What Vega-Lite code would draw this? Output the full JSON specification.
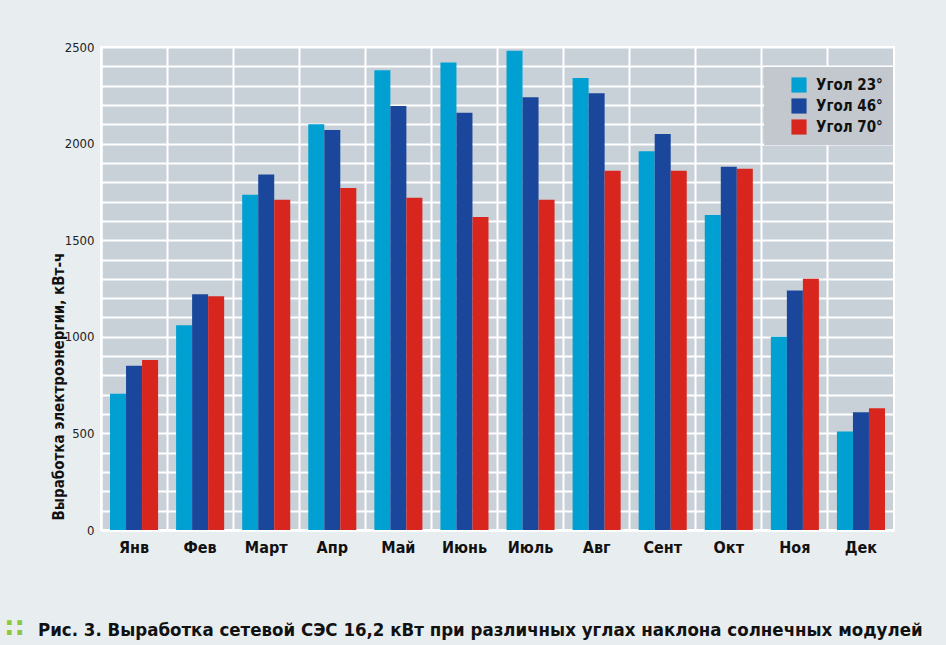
{
  "$schema": "https://vega.github.io/schema/vega-lite/v6.json",
  "width": 793,
  "height": 483,
  "autosize": "none",
  "padding": {"left": 101, "top": 47, "right": 52, "bottom": 115},
  "background": "#e8edf0",
  "config": {
    "font": "Liberation Sans Narrow, DejaVu Sans Condensed, Roboto, sans-serif",
    "view": {"fill": "#c9d1d8", "stroke": "#ffffff", "strokeWidth": 2}
  },
  "title": {
    "text": "Рис. 3. Выработка сетевой СЭС 16,2 кВт при различных углах наклона солнечных модулей",
    "orient": "bottom",
    "anchor": "start",
    "frame": "group",
    "dx": -63,
    "offset": -20,
    "fontSize": 18.5,
    "fontWeight": "bold",
    "color": "#111111",
    "font": "Liberation Sans Narrow, DejaVu Sans Condensed, Roboto, sans-serif"
  },
  "data": {
    "values": [
      {"month": "Янв", "angle": "Угол 23°", "value": 705},
      {"month": "Янв", "angle": "Угол 46°", "value": 850},
      {"month": "Янв", "angle": "Угол 70°", "value": 880},
      {"month": "Фев", "angle": "Угол 23°", "value": 1060},
      {"month": "Фев", "angle": "Угол 46°", "value": 1220},
      {"month": "Фев", "angle": "Угол 70°", "value": 1210},
      {"month": "Март", "angle": "Угол 23°", "value": 1735},
      {"month": "Март", "angle": "Угол 46°", "value": 1840},
      {"month": "Март", "angle": "Угол 70°", "value": 1710},
      {"month": "Апр", "angle": "Угол 23°", "value": 2100},
      {"month": "Апр", "angle": "Угол 46°", "value": 2070},
      {"month": "Апр", "angle": "Угол 70°", "value": 1770},
      {"month": "Май", "angle": "Угол 23°", "value": 2380},
      {"month": "Май", "angle": "Угол 46°", "value": 2195},
      {"month": "Май", "angle": "Угол 70°", "value": 1720},
      {"month": "Июнь", "angle": "Угол 23°", "value": 2420},
      {"month": "Июнь", "angle": "Угол 46°", "value": 2160},
      {"month": "Июнь", "angle": "Угол 70°", "value": 1620},
      {"month": "Июль", "angle": "Угол 23°", "value": 2480},
      {"month": "Июль", "angle": "Угол 46°", "value": 2240},
      {"month": "Июль", "angle": "Угол 70°", "value": 1710},
      {"month": "Авг", "angle": "Угол 23°", "value": 2340},
      {"month": "Авг", "angle": "Угол 46°", "value": 2260},
      {"month": "Авг", "angle": "Угол 70°", "value": 1860},
      {"month": "Сент", "angle": "Угол 23°", "value": 1960},
      {"month": "Сент", "angle": "Угол 46°", "value": 2050},
      {"month": "Сент", "angle": "Угол 70°", "value": 1860},
      {"month": "Окт", "angle": "Угол 23°", "value": 1630},
      {"month": "Окт", "angle": "Угол 46°", "value": 1880},
      {"month": "Окт", "angle": "Угол 70°", "value": 1870},
      {"month": "Ноя", "angle": "Угол 23°", "value": 1000},
      {"month": "Ноя", "angle": "Угол 46°", "value": 1240},
      {"month": "Ноя", "angle": "Угол 70°", "value": 1300},
      {"month": "Дек", "angle": "Угол 23°", "value": 510},
      {"month": "Дек", "angle": "Угол 46°", "value": 610},
      {"month": "Дек", "angle": "Угол 70°", "value": 630}
    ]
  },
  "mark": {"type": "bar"},
  "encoding": {
    "x": {
      "field": "month",
      "type": "nominal",
      "sort": null,
      "scale": {"paddingInner": 0, "paddingOuter": 0},
      "axis": {
        "title": "∷",
        "titleColor": "#8dc63f",
        "titleFontSize": 26,
        "titleFont": "DejaVu Sans",
        "titleAlign": "left",
        "titleAnchor": null,
        "titleX": -96,
        "titleY": 106,
        "titleBaseline": "alphabetic",
        "labelAngle": 0,
        "labelFontSize": 16,
        "labelFontWeight": "bold",
        "labelColor": "#111111",
        "labelPadding": 9,
        "ticks": false,
        "grid": true,
        "bandPosition": 0,
        "gridColor": "#ffffff",
        "gridWidth": 2,
        "gridOpacity": 1,
        "domainColor": "#ffffff",
        "domainWidth": 2
      }
    },
    "xOffset": {
      "field": "angle",
      "type": "nominal",
      "scale": {"paddingInner": 0, "paddingOuter": 0.5625}
    },
    "y": {
      "field": "value",
      "type": "quantitative",
      "scale": {"domain": [0, 2500], "nice": false},
      "axis": {
        "title": "Выработка электроэнергии, кВт-ч",
        "titleFontSize": 15,
        "titleFontWeight": "bold",
        "titleColor": "#111111",
        "titleAnchor": "start",
        "titleY": 473,
        "titleX": -38,
        "titleBaseline": "alphabetic",
        "values": [0, 100, 200, 300, 400, 500, 600, 700, 800, 900, 1000, 1100, 1200, 1300, 1400, 1500, 1600, 1700, 1800, 1900, 2000, 2100, 2200, 2300, 2400, 2500],
        "labelExpr": "datum.value % 500 === 0 ? datum.label : ''",
        "format": "d",
        "labelFontSize": 13,
        "labelColor": "#222222",
        "labelPadding": 7,
        "ticks": false,
        "gridColor": "#ffffff",
        "gridWidth": 2,
        "gridOpacity": 1,
        "domainColor": "#ffffff",
        "domainWidth": 2
      }
    },
    "color": {
      "field": "angle",
      "type": "nominal",
      "scale": {"domain": ["Угол 23°", "Угол 46°", "Угол 70°"], "range": ["#00a0d2", "#1a479c", "#d8261f"]},
      "legend": {
        "title": null,
        "orient": "none",
        "legendX": 663,
        "legendY": 20,
        "fillColor": "#c2c8ce",
        "padding": 10,
        "symbolOffset": 17,
        "symbolType": "square",
        "symbolSize": 230,
        "symbolStrokeWidth": 0,
        "symbolOpacity": 1,
        "labelFontSize": 15,
        "labelFontWeight": "bold",
        "labelColor": "#111111",
        "labelOffset": 9,
        "rowPadding": 5,
        "labelLimit": 200,
        "strokeColor": null
      }
    }
  }
}
